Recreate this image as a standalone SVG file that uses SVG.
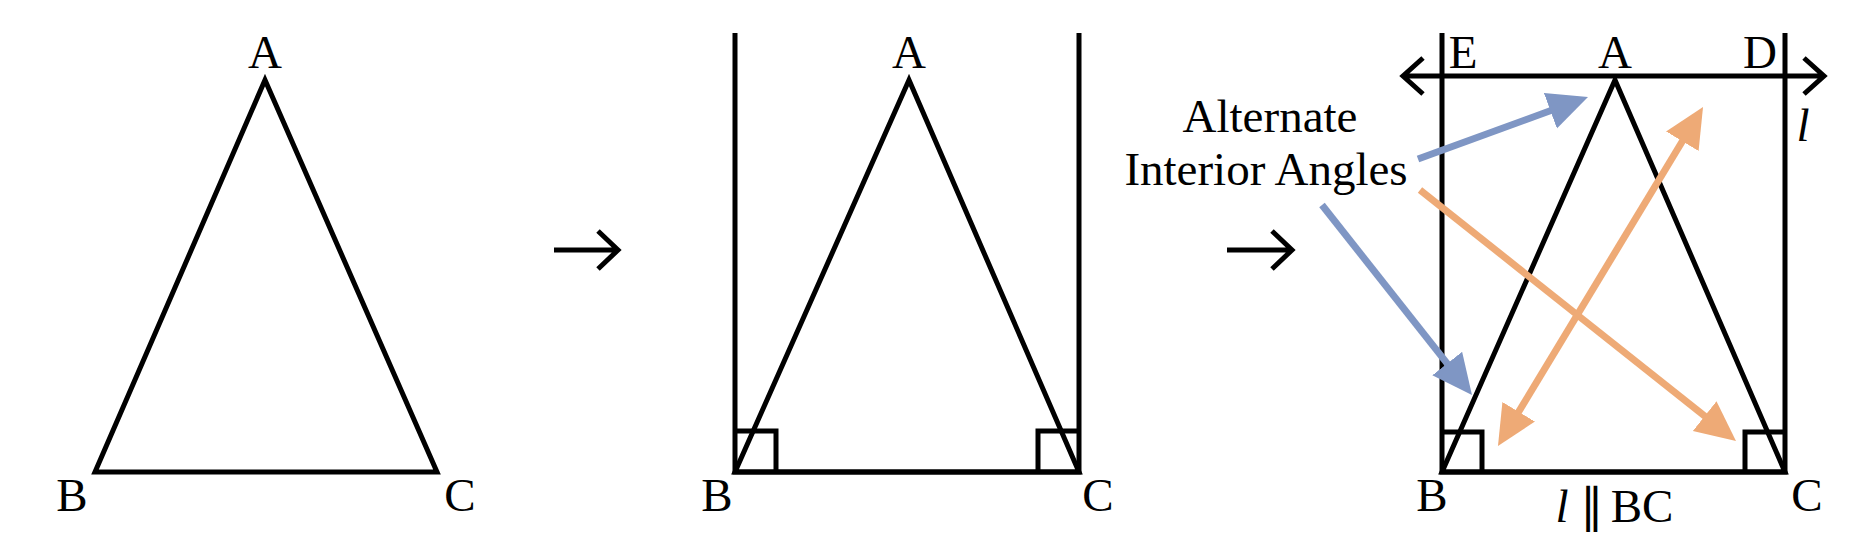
<svg xmlns="http://www.w3.org/2000/svg" width="1862" height="560" viewBox="0 0 1862 560">
<style>
.k{fill:none;stroke:#000;stroke-width:5;stroke-linejoin:miter;stroke-miterlimit:20}
.t{font-family:"Liberation Serif","Times New Roman",serif;font-size:47px;fill:#000;text-anchor:middle}
.i{font-style:italic}
.b{fill:none;stroke:#7F96C4;stroke-width:7}
.o{fill:none;stroke:#EEAA76;stroke-width:7}
</style>
<defs>
<marker id="hb" markerUnits="userSpaceOnUse" markerWidth="42" markerHeight="40" refX="10" refY="19" orient="auto"><path d="M0,0 L40,19 L0,38 z" fill="#7F96C4"/></marker>
<marker id="ho" markerUnits="userSpaceOnUse" markerWidth="42" markerHeight="40" refX="10" refY="19" orient="auto-start-reverse"><path d="M0,0 L40,19 L0,38 z" fill="#EEAA76"/></marker>
</defs>
<rect width="1862" height="560" fill="#fff"/>
<g id="panel1">
<polygon class="k" points="265,80 95,472 437,472"/>
<text class="t" x="265" y="68">A</text>
<text class="t" x="72" y="511">B</text>
<text class="t" x="460" y="511">C</text>
</g>
<g id="step1">
<path class="k" d="M554,250 H618 M598,231 L618,250 L598,269"/>
</g>
<g id="panel2">
<path class="k" d="M735,33 V472 H1079 V33"/>
<polygon class="k" points="909,80 735,472 1079,472"/>
<path class="k" d="M735,431 H776 V472 M1079,431 H1038 V472"/>
<text class="t" x="909" y="68">A</text>
<text class="t" x="717" y="511">B</text>
<text class="t" x="1098" y="511">C</text>
</g>
<g id="step2">
<path class="k" d="M1227,250 H1292 M1272,231 L1292,250 L1272,269"/>
</g>
<g id="panel3">
<path class="k" d="M1442,33 V472 H1785 V33"/>
<path class="k" d="M1403,76 H1824 M1423,58 L1403,76 L1423,94 M1804,58 L1824,76 L1804,94"/>
<polygon class="k" points="1615,80 1442,472 1785,472"/>
<path class="k" d="M1442,432 H1482 V472 M1785,432 H1745 V472"/>
<text class="t" x="1463" y="68">E</text>
<text class="t" x="1615" y="68">A</text>
<text class="t" x="1760" y="68">D</text>
<text class="t i" x="1803" y="141">l</text>
<text class="t" x="1432" y="511">B</text>
<text class="t" x="1807" y="511">C</text>
<text class="t i" x="1562" y="522">l</text>
<text class="t" x="1592" y="522">∥</text>
<text class="t" x="1642" y="522">BC</text>
</g>
<g id="label">
<text class="t" x="1270" y="132">Alternate</text>
<text class="t" x="1266" y="185">Interior Angles</text>
</g>
<g id="connectors">
<line class="b" x1="1418" y1="159" x2="1559.8" y2="107.3" marker-end="url(#hb)"/>
<line class="b" x1="1322" y1="205" x2="1453.4" y2="371.4" marker-end="url(#hb)"/>
<line class="o" x1="1420" y1="190" x2="1712.5" y2="422.3" marker-end="url(#ho)"/>
<line class="o" x1="1513.5" y1="420.3" x2="1687.5" y2="132.7" marker-start="url(#ho)" marker-end="url(#ho)"/>
</g>
</svg>
